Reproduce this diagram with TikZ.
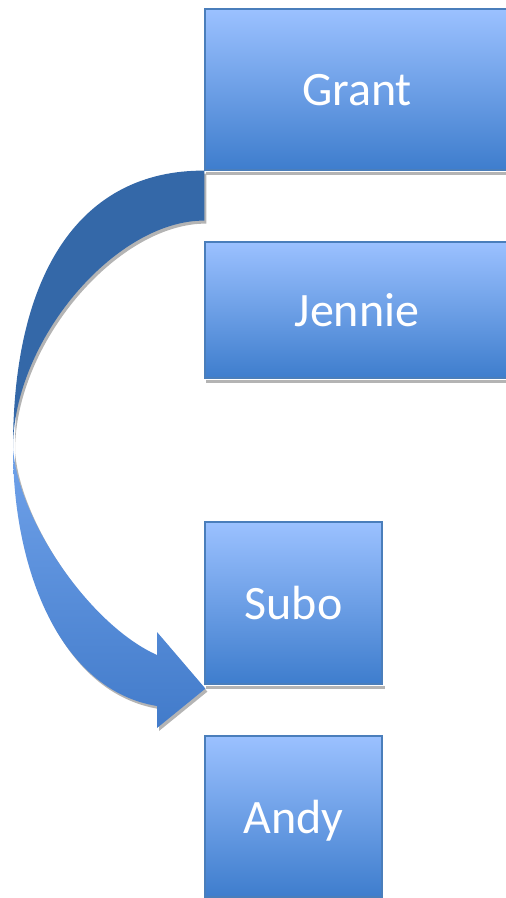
\documentclass[tikz,border=0pt]{standalone}
\usepackage{fontspec}
\setmainfont{Carlito}
\usetikzlibrary{calc}

\definecolor{boxtop}{RGB}{155,193,255}
\definecolor{boxbot}{RGB}{62,125,205}
\definecolor{boxedge}{RGB}{74,126,187}
\definecolor{backblue}{RGB}{52,104,168}
\definecolor{fronttop}{RGB}{112,162,234}
\definecolor{frontbot}{RGB}{66,123,202}
\definecolor{shadowgray}{RGB}{180,180,180}

\tikzset{
  namebox/.style={rectangle, draw=boxedge, line width=1.2pt,
    top color=boxtop, bottom color=boxbot, text=white, inner sep=0pt,
    font=\fontsize{48}{58}\selectfont, text depth=0pt},
  arrowshadow/.style={preaction={fill=shadowgray,
    transform canvas={xshift=2pt,yshift=-3pt}}}
}

\begin{document}
\begin{tikzpicture}[x=1pt,y=-1pt]
\useasboundingbox (0,0) rectangle (506,898);

% Name boxes
\node[namebox, minimum width=304pt, minimum height=161pt] (grant) at (357,89.5) {Grant};
\node[namebox, minimum width=304pt, minimum height=136pt] (jennie) at (357,310) {Jennie};
\node[namebox, minimum width=177pt, minimum height=162pt] (subo) at (293.5,603) {Subo};
\node[namebox, minimum width=177pt, minimum height=161pt] (andy) at (293.5,816.5) {Andy};

% Shadows under the boxes
\foreach \n in {grant,jennie,subo,andy}
  \fill[shadowgray] ($(\n.south west)+(2,1)$) rectangle ($(\n.south east)+(2,4)$);

% Points of the curved arrow
\coordinate (tail out) at (grant.south west);
\coordinate (tail in) at ($(grant.south west)+(0,50)$);
\coordinate (bend) at (13,448);
\coordinate (head out) at (157,706);
\coordinate (head in) at (157,655);
\coordinate (barb out) at (157,728);
\coordinate (barb in) at (157,632);
\coordinate (tip) at ($(subo.south west)+(1,4)$);

% Back face of the arrow
\fill[backblue, arrowshadow] (tail out) .. controls (81,170) and (13,272) .. (bend)
  .. controls (13,340) and (116,220) .. (tail in) -- cycle;

% Front face with the head
\shade[top color=fronttop, bottom color=frontbot, arrowshadow]
  (bend) .. controls (13,570) and (60,690) .. (head out) -- (barb out) -- (tip)
  -- (barb in) -- (head in) .. controls (90,625) and (18,520) .. (bend) -- cycle;

\end{tikzpicture}
\end{document}
